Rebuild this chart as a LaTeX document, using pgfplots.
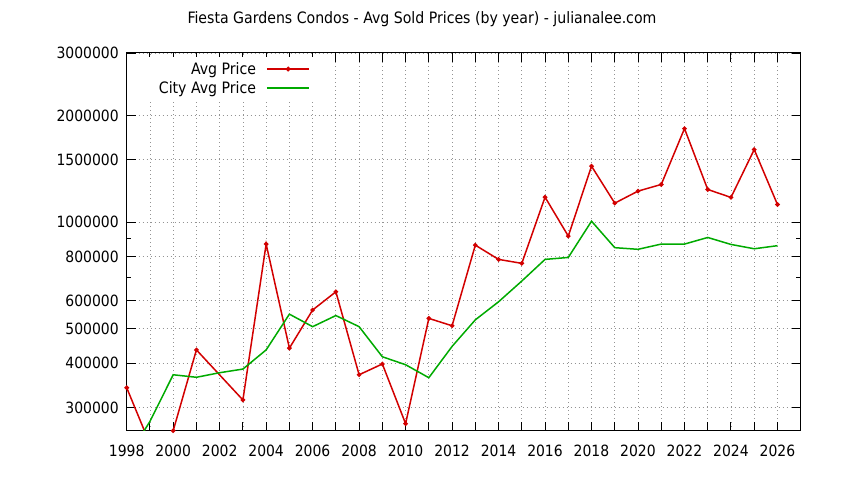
\documentclass[border=0pt]{standalone}
\usepackage{pgfplots}
\pgfplotsset{compat=1.18}
\usepackage{fontspec}
\setmainfont{DejaVu Sans Condensed}

\definecolor{avgred}{RGB}{210,0,0}
\definecolor{citygreen}{RGB}{0,170,0}

% avg sold prices
\pgfplotstableread{
year price
1998 341000
1999 236500
2000 258000
2001 436000
2003 315000
2004 867000
2005 441000
2006 565000
2007 636000
2008 371000
2009 398000
2010 270000
2011 535000
2012 510000
2013 861000
2014 785000
2015 765000
2016 1176000
2017 913000
2018 1438000
2019 1131000
2020 1223000
2021 1277000
2022 1836000
2023 1236000
2024 1174000
2025 1602000
2026 1121000
}\avgdata

\pgfplotstableread{
year price
1998 215000
1999 274000
2000 371000
2001 365000
2002 376000
2003 385000
2004 436000
2005 550000
2006 507000
2007 545000
2008 507000
2009 417000
2010 396000
2011 364000
2012 446000
2013 530000
2014 596000
2015 682000
2016 785000
2017 795000
2018 1006000
2019 847000
2020 838000
2021 867000
2022 867000
2023 905000
2024 865000
2025 841000
2026 858000
}\citydata

\newcommand\tickfnt{\fontsize{15.5bp}{18bp}\selectfont}
\newcommand\labelfnt{\fontsize{15.7bp}{18bp}\selectfont}

\begin{document}
\begin{tikzpicture}
\path[use as bounding box] (-126.7bp,-49.3bp) rectangle (717.3bp,430.7bp);
\begin{semilogyaxis}[
    at={(0,0)}, anchor=south west,
    scale only axis,
    width=674bp, height=377.7bp,
    xmin=1998, xmax=2027,
    ymin=258000, ymax=3000000,
    xtick={1998,...,2026},
    xticklabels={1998,,2000,,2002,,2004,,2006,,2008,,2010,,2012,,2014,,2016,,2018,,2020,,2022,,2024,,2026},
    ytick={300000,400000,500000,600000,800000,1000000,1500000,2000000,3000000},
    yticklabels={300000,400000,500000,600000,800000,1000000,1500000,2000000,3000000},
    minor ytick={700000,900000},
    /pgf/number format/assume math mode=true,
    tick label style={font=\tickfnt},
    xticklabel style={yshift=-10.5bp},
    yticklabel style={xshift=-4.5bp},
    tick align=inside,
    major tick length=9bp,
    minor tick length=4.5bp,
    tick style={black, line width=0.9bp},
    axis line style={line width=1bp},
    xmajorgrids, ymajorgrids,
    grid style={gray!85, line width=0.7bp, dash pattern=on 1bp off 3bp},
    clip=true,
    legend plot pos=right,
    legend cell align=right,
    legend style={draw=none, fill=white, at={(axis description cs:0.2845,0.989)}, anchor=north east,
        inner xsep=8bp, inner ysep=3bp,
        row sep=1.5bp, font=\labelfnt,
        /tikz/every odd column/.append style={column sep=8bp}},
    legend image code/.code={\draw[mark repeat=2, mark phase=2, #1, line width=1.6bp] plot coordinates {(0bp,0bp) (21.3bp,0bp) (42.6bp,0bp)};},
]
\addplot[avgred, line width=1.5bp, mark=*, mark size=1.5bp] table[x=year, y=price] {\avgdata};
\addlegendentry{Avg Price}
\addplot[citygreen, line width=1.5bp, mark=none] table[x=year, y=price] {\citydata};
\addlegendentry{City Avg Price}
\end{semilogyaxis}
\node[font=\labelfnt, anchor=base] at (295.3bp,406.7bp) {Fiesta Gardens Condos - Avg Sold Prices (by year) - julianalee.com};
\end{tikzpicture}
\end{document}
